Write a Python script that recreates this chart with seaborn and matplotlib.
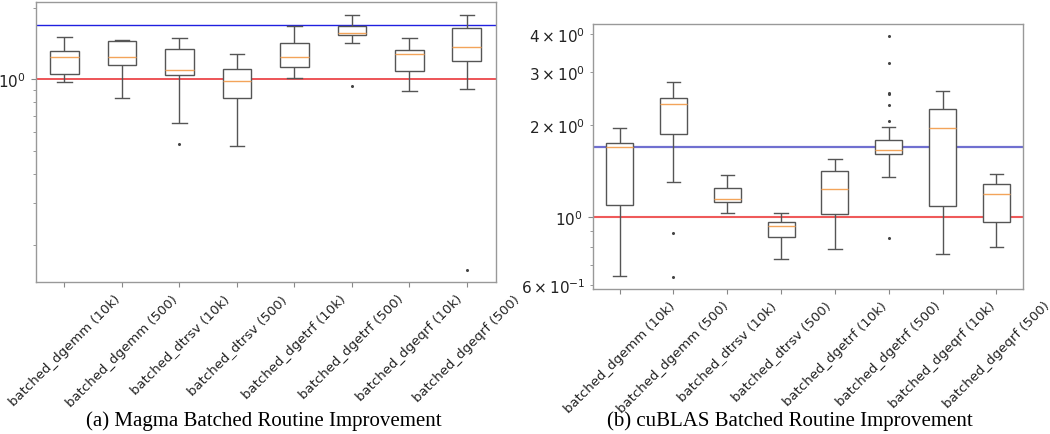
import numpy as np
import pandas as pd
import matplotlib
matplotlib.use("Agg")
import matplotlib.pyplot as plt
import seaborn as sns

routines = ["batched_dgemm (10k)", "batched_dgemm (500)", "batched_dtrsv (10k)",
            "batched_dtrsv (500)", "batched_dgetrf (10k)", "batched_dgetrf (500)",
            "batched_dgeqrf (10k)", "batched_dgeqrf (500)"]

# Magma panel: box statistics (speed-up ratio)
magma_whislo = [0.971, 0.831, 0.652, 0.523, 1.016, 1.419, 0.892, 0.910]
magma_q1     = [1.050, 1.146, 1.040, 0.831, 1.130, 1.543, 1.084, 1.195]
magma_med    = [1.238, 1.238, 1.098, 0.984, 1.238, 1.563, 1.279, 1.365]
magma_q3     = [1.310, 1.446, 1.339, 1.102, 1.419, 1.679, 1.333, 1.641]
magma_whishi = [1.510, 1.470, 1.498, 1.279, 1.679, 1.870, 1.489, 1.868]
magma_fliers = [[], [], [0.532], [], [], [0.940], [], [0.156]]

# cuBLAS panel
cublas_whislo = [0.642, 1.302, 1.033, 0.730, 0.787, 1.355, 0.758, 0.797]
cublas_q1     = [1.095, 1.871, 1.125, 0.862, 1.023, 1.612, 1.087, 0.963]
cublas_med    = [1.700, 2.347, 1.148, 0.934, 1.235, 1.659, 1.963, 1.192]
cublas_q3     = [1.748, 2.466, 1.245, 0.963, 1.415, 1.788, 2.265, 1.282]
cublas_whishi = [1.958, 2.770, 1.379, 1.031, 1.549, 1.973, 2.590, 1.390]
cublas_fliers = [[], [0.886, 0.636], [], [], [],
                 [3.94, 3.20, 2.55, 2.53, 2.34, 2.07, 0.858], [], []]

baseline = 1.0
target = 1.7


def expand(lo, q1, med, q3, hi, fliers):
    """Build a sample whose box statistics equal the read-off summary."""
    low = sorted(f for f in fliers if f < q1)
    high = sorted(f for f in fliers if f > q3)
    s = 1 + max(len(low), len(high))
    vals = (low + [lo] * (s - len(low)) + [q1] + [med] * (2 * s - 1) + [q3]
            + [hi] * (s - len(high)) + high)
    return vals


def make_df(lo, q1, med, q3, hi, fl):
    rows = []
    for i, r in enumerate(routines):
        for v in expand(lo[i], q1[i], med[i], q3[i], hi[i], fl[i]):
            rows.append((r, v))
    return pd.DataFrame(rows, columns=["routine", "speedup"])


df_magma = make_df(magma_whislo, magma_q1, magma_med, magma_q3, magma_whishi, magma_fliers)
df_cublas = make_df(cublas_whislo, cublas_q1, cublas_med, cublas_q3, cublas_whishi, cublas_fliers)

fig = plt.figure(figsize=(10.5, 4.35), dpi=100)
ax1 = fig.add_axes([0.034, 0.3487, 0.438, 0.6437])
ax2 = fig.add_axes([0.5645, 0.3333, 0.410, 0.609])

edge = "#555555"
box_kw = dict(x="routine", y="speedup", order=routines, width=0.5, color="white",
              linecolor=edge, linewidth=1.0, whis=1.5,
              medianprops=dict(color="#f3a45a", linewidth=1.0),
              flierprops=dict(marker="o", markersize=1.2, markerfacecolor="#444444",
                              markeredgecolor="#444444"))

sns.boxplot(data=df_magma, ax=ax1, **box_kw)
sns.boxplot(data=df_cublas, ax=ax2, **box_kw)

ax1.axhline(baseline, color="#e8262a", linewidth=1.1, zorder=0.5)
ax1.axhline(target, color="#2020e0", linewidth=1.0, zorder=0.5)
ax2.axhline(baseline, color="#ef5a5a", linewidth=1.5, zorder=0.5)
ax2.axhline(target, color="#7070d0", linewidth=1.6, zorder=0.5)

ax1.set_yscale("log")
ax2.set_yscale("log")
ax1.set_ylim(0.139, 2.11)
ax2.set_ylim(0.582, 4.30)

for ax in (ax1, ax2):
    ax.set_xlabel("")
    ax.set_ylabel("")
    ax.set_xlim(-0.5, len(routines) - 0.5)
    ax.tick_params(axis="x", labelrotation=45, labelsize=9.5, colors="#222222")
    ax.tick_params(axis="y", which="both", labelsize=11, colors="#222222")
    ax.tick_params(which="both", color="#888888")
    for sp in ax.spines.values():
        sp.set_color("#999999")
        sp.set_linewidth(1.0)

fig.text(264 / 1050, 1 - 421 / 435, "(a) Magma Batched Routine Improvement",
         ha="center", va="center", fontsize=15, family="Liberation Serif")
fig.text(790 / 1050, 1 - 421 / 435, "(b) cuBLAS Batched Routine Improvement",
         ha="center", va="center", fontsize=15, family="Liberation Serif")

fig.savefig("out.png", dpi=100)
